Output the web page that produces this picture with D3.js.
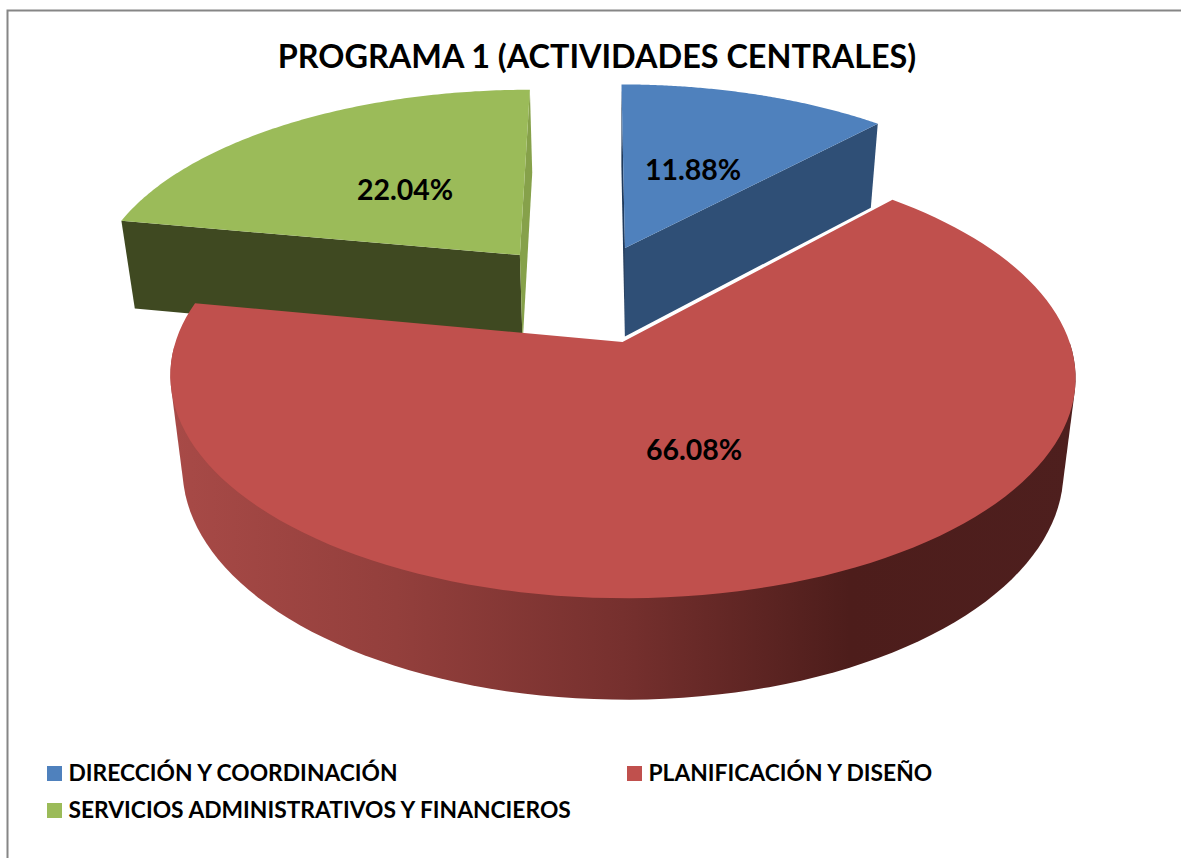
<!DOCTYPE html>
<html>
<head>
<meta charset="utf-8">
<script src="https://cdn.jsdelivr.net/npm/d3@7"></script>
<style>
  html, body { margin: 0; padding: 0; background: #fff; }
  text { font-family: Lato, sans-serif; font-weight: 700; fill: #000; }
</style>
</head>
<body>
<div id="chart"></div>
<script>
var chartTitle = "PROGRAMA 1 (ACTIVIDADES CENTRALES)";
var categories = ["DIRECCIÓN Y COORDINACIÓN", "PLANIFICACIÓN Y DISEÑO", "SERVICIOS ADMINISTRATIVOS Y FINANCIEROS"];
var shares = [11.88, 66.08, 22.04];
var topColors = ["#4f81bd", "#c0504d", "#9bbb59"];
var startFaceColors = ["#1f3a5c", "#7a2f2d", "#3f4921"];
var endFaceColors = ["#2f4f76", "#7a2f2d", "#86a14a"];

var width = 1181, height = 858;

// Perspective fitted to the picture: u goes right, v goes to the back, both in pie radii
var cx = 622.5,
    camera = 0.157,
    lean = 3,
    topPlane = {cy: 342, sx: 447, sy: 216},
    bottomPlane = {cy: 434, sx: 435, sy: 224};

// How far each slice is pulled out of the pie
var explode = [{u: 0.0093, v: 0.467}, {u: 0, v: 0}, {u: -0.242, v: 0.43}];

function project(u, v, plane) {
  var w = 1 + camera * v;
  return [cx + plane.sx * u / w - lean * v, plane.cy - plane.sy * v / w];
}

var pie = d3.pie().sort(null).value(function (d) { return d; });
var slices = pie(shares);

var svg = d3.select("#chart").append("svg")
    .attr("width", width)
    .attr("height", height)
    .style("display", "block");

var defs = svg.append("defs");
var wallGradient = defs.append("linearGradient")
    .attr("id", "redWall")
    .attr("gradientUnits", "userSpaceOnUse")
    .attr("x1", 170).attr("x2", 1076).attr("y1", 0).attr("y2", 0);
[[0, "#a84a47"], [0.25, "#933f3c"], [0.5, "#76302e"], [0.75, "#4d1d1b"], [1, "#4e1f1e"]].forEach(function (s) {
  wallGradient.append("stop").attr("offset", s[0]).attr("stop-color", s[1]);
});

// Chart frame, only the top and left edges show in the picture
svg.append("path")
    .attr("d", "M7.5,858V10.5H" + width)
    .attr("fill", "none")
    .attr("stroke", "#868686")
    .attr("stroke-width", 2);

svg.append("text")
    .attr("x", 597)
    .attr("y", 68)
    .attr("text-anchor", "middle")
    .style("font-size", "32.4px")
    .text(chartTitle);

var line = d3.line();

function rimPoint(angle, offset, plane) {
  return project(offset.u + Math.sin(angle), offset.v + Math.cos(angle), plane);
}

function arcAngles(d) {
  return d3.range(0, 121).map(function (i) {
    return d.startAngle + (d.endAngle - d.startAngle) * i / 120;
  });
}

function drawSlice(d, i) {
  var offset = explode[i],
      g = svg.append("g").attr("class", "slice"),
      angles = arcAngles(d);
  var topApex = project(offset.u, offset.v, topPlane),
      bottomApex = project(offset.u, offset.v, bottomPlane);

  // The big slice shows no radial faces, they all turn away from the viewer
  function face(angle, color) {
    g.append("path")
      .attr("d", line([topApex, rimPoint(angle, offset, topPlane), rimPoint(angle, offset, bottomPlane), bottomApex]) + "Z")
      .attr("fill", color);
  }
  if (i !== 1) {
    face(d.startAngle, startFaceColors[i]);
    face(d.endAngle, endFaceColors[i]);
  }

  // Outer wall only where the rim faces the viewer, hull gives the straight silhouette
  var front = angles.filter(function (a) { return Math.cos(a) < 0; });
  if (front.length > 2) {
    var rim = front.map(function (a) { return rimPoint(a, offset, topPlane); })
        .concat(front.map(function (a) { return rimPoint(a, offset, bottomPlane); }));
    g.append("path")
      .attr("d", line(d3.polygonHull(rim)) + "Z")
      .attr("fill", "url(#redWall)");
  }

  var surface = [topApex].concat(angles.map(function (a) { return rimPoint(a, offset, topPlane); }));
  g.append("path")
    .attr("d", line(surface) + "Z")
    .attr("fill", topColors[i]);
}

// Back slices first, the big one sits in front of them
[2, 0, 1].forEach(function (i) { drawSlice(slices[i], i); });

// Data labels
var labelAt = [[693, 180], [694, 460], [405, 200]];
shares.forEach(function (v, i) {
  svg.append("text")
    .attr("x", labelAt[i][0])
    .attr("y", labelAt[i][1])
    .attr("text-anchor", "middle")
    .style("font-size", "28.5px")
    .text(d3.format(".2f")(v) + "%");
});

// Legend
var legendAt = [[47, 766], [627, 766], [47, 803]];
categories.forEach(function (name, i) {
  var item = svg.append("g").attr("transform", "translate(" + legendAt[i][0] + "," + legendAt[i][1] + ")");
  item.append("rect").attr("width", 15).attr("height", 15).attr("fill", topColors[i]);
  item.append("text")
    .attr("x", 21.5)
    .attr("y", 15)
    .style("font-size", "22.8px")
    .text(name);
});
</script>
</body>
</html>
